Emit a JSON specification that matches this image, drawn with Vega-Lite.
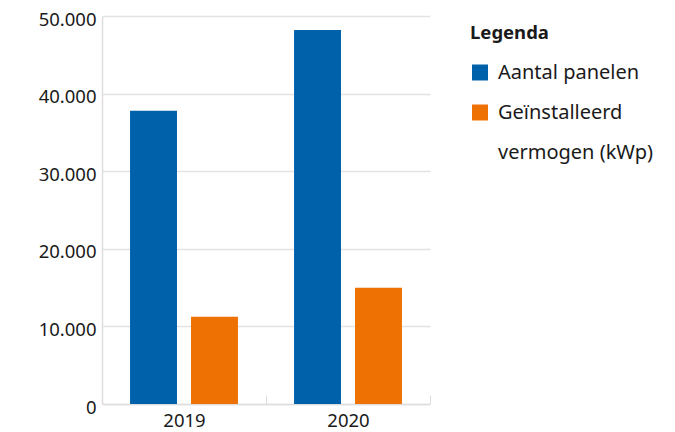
{
  "$schema": "https://vega.github.io/schema/vega-lite/v6.json",
  "width": 328,
  "height": 388,
  "autosize": {"type": "none"},
  "padding": {"left": 102, "top": 16, "right": 245, "bottom": 28},
  "background": "white",
  "config": {
    "locale": {"number": {"decimal": ",", "thousands": ".", "grouping": [3], "currency": ["€", ""]}},
    "font": "Noto Sans",
    "view": {"stroke": null},
    "style": {"guide-label": {"lineHeight": 40}}
  },
  "data": {
    "values": [
      {"jaar": "2019", "reeks": "Aantal panelen", "waarde": 37800},
      {"jaar": "2019", "reeks": "Geïnstalleerd vermogen (kWp)", "waarde": 11240},
      {"jaar": "2020", "reeks": "Aantal panelen", "waarde": 48200},
      {"jaar": "2020", "reeks": "Geïnstalleerd vermogen (kWp)", "waarde": 14980}
    ]
  },
  "mark": {"type": "bar"},
  "encoding": {
    "x": {
      "field": "jaar",
      "type": "nominal",
      "title": null,
      "scale": {"paddingInner": 0, "paddingOuter": 0},
      "axis": {
        "labelAngle": 0,
        "labelFontSize": 18.5,
        "labelColor": "#1a1a1a",
        "labelPadding": 16,
        "domainColor": "#dddddd",
        "tickColor": "#dddddd",
        "tickBand": "extent",
        "tickSize": -9,
        "domainWidth": 1.5
      }
    },
    "xOffset": {
      "field": "reeks",
      "scale": {"paddingInner": 0.23, "paddingOuter": 0.46}
    },
    "y": {
      "field": "waarde",
      "type": "quantitative",
      "title": null,
      "scale": {"domain": [0, 50000]},
      "axis": {
        "values": [0, 10000, 20000, 30000, 40000, 50000],
        "format": ",d",
        "ticks": false,
        "labelPadding": 6,
        "labelOffset": 3,
        "labelFontSize": 18.5,
        "labelColor": "#1a1a1a",
        "domain": true,
        "domainColor": "#dddddd",
        "domainWidth": 1.5,
        "gridColor": "#e3e3e3",
        "gridWidth": 1.5
      }
    },
    "color": {
      "field": "reeks",
      "type": "nominal",
      "scale": {"range": ["#0061ab", "#ee7203"]},
      "legend": {
        "title": "Legenda",
        "orient": "none",
        "legendX": 368,
        "legendY": 8,
        "padding": 0,
        "titleFontSize": 18.5,
        "titleFontWeight": "bold",
        "titleColor": "#1a1a1a",
        "titlePadding": 20,
        "symbolType": "square",
        "symbolSize": 256,
        "symbolStrokeWidth": 0,
        "symbolOpacity": 1,
        "labelFontSize": 20,
        "labelColor": "#1a1a1a",
        "labelOffset": 8,
        "labelLimit": 300,
        "rowPadding": 20,
        "labelBaseline": "middle",
        "labelExpr": "datum.label == 'Geïnstalleerd vermogen (kWp)' ? ['Geïnstalleerd', 'vermogen (kWp)'] : datum.label"
      }
    }
  }
}
